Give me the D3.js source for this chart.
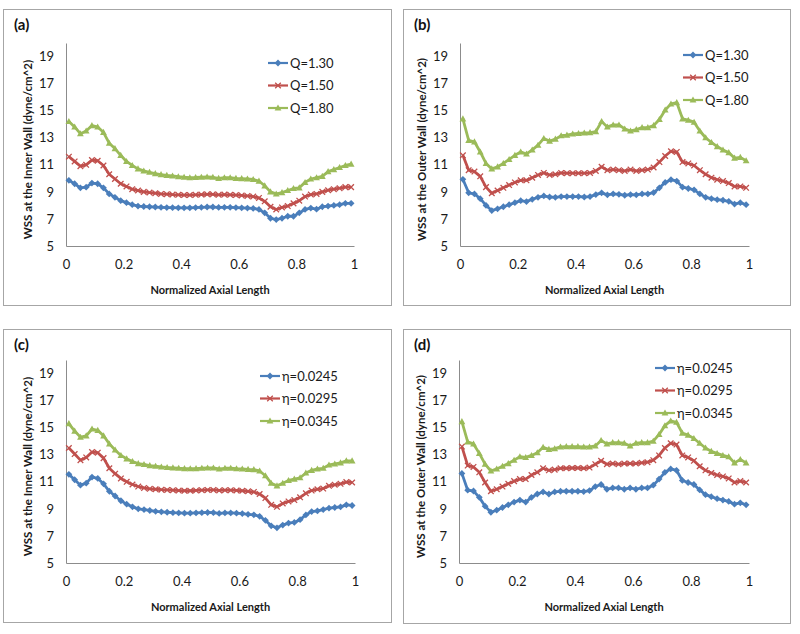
<!DOCTYPE html>
<html>
<head>
<meta charset="utf-8">
<script src="https://cdn.jsdelivr.net/npm/d3@7"></script>
<style>
  body { margin: 0; background: #fff; }
  svg { display: block; font-family: Lato, "Open Sans", sans-serif; }
</style>
</head>
<body>
<script>
// sample positions along the normalized axial length
var xs = d3.range(0.01, 1, 0.02);

// tick labels
var xTicks = [0, 0.2, 0.4, 0.6, 0.8, 1],
	yTicks = [5, 7, 9, 11, 13, 15, 17, 19];

// legend labels
var qNames = ['Q=1.30', 'Q=1.50', 'Q=1.80'],
	etaNames = ['\u03b7=0.0245', '\u03b7=0.0295', '\u03b7=0.0345'];

// (a) inner wall, flow rate
var innerQ130 = [9.85,9.6,9.3,9.35,9.65,9.6,9.3,8.85,8.6,8.35,8.2,8.05,7.95,7.92,7.9,7.88,7.86,7.84,7.83,7.82,7.82,7.82,7.84,7.86,7.88,7.88,7.85,7.86,7.86,7.84,7.82,7.8,7.78,7.7,7.45,7.05,6.95,7.05,7.2,7.2,7.45,7.7,7.8,7.72,7.9,7.95,8.0,8.05,8.15,8.15],
	innerQ150 = [11.6,11.25,10.9,11.0,11.35,11.3,10.95,10.3,9.95,9.6,9.4,9.2,9.1,9.0,8.95,8.9,8.85,8.83,8.8,8.78,8.76,8.76,8.78,8.8,8.82,8.82,8.78,8.8,8.78,8.76,8.74,8.7,8.65,8.55,8.3,7.9,7.7,7.85,7.95,8.15,8.35,8.65,8.8,8.85,9.0,9.12,9.2,9.27,9.35,9.35],
	innerQ180 = [14.2,13.8,13.3,13.5,13.9,13.8,13.4,12.6,12.2,11.7,11.25,10.95,10.7,10.55,10.45,10.35,10.28,10.22,10.18,10.12,10.08,10.05,10.06,10.08,10.1,10.08,10.0,10.05,10.05,10.0,9.98,9.95,9.92,9.8,9.45,9.0,8.85,8.95,9.1,9.25,9.3,9.7,9.95,10.05,10.15,10.5,10.65,10.8,10.95,11.05];

// (b) outer wall, flow rate
var outerQ130 = [9.93,8.93,8.85,8.5,8.0,7.62,7.75,7.9,8.05,8.2,8.35,8.28,8.45,8.6,8.7,8.62,8.6,8.65,8.65,8.65,8.65,8.62,8.65,8.8,8.93,8.78,8.85,8.82,8.75,8.8,8.78,8.85,8.85,8.95,9.3,9.7,9.9,9.8,9.35,9.25,9.15,8.85,8.6,8.5,8.42,8.38,8.3,8.1,8.2,8.05],
	outerQ150 = [11.7,10.6,10.5,10.15,9.35,8.9,9.1,9.3,9.5,9.7,9.85,9.85,10.05,10.25,10.4,10.25,10.3,10.4,10.38,10.38,10.38,10.38,10.4,10.55,10.85,10.6,10.65,10.6,10.55,10.65,10.55,10.6,10.65,10.8,11.2,11.65,12.0,11.95,11.2,11.1,10.95,10.6,10.3,10.05,9.9,9.8,9.65,9.4,9.4,9.3],
	outerQ180 = [14.4,12.8,12.7,11.95,11.1,10.7,10.85,11.1,11.4,11.7,11.95,11.8,12.1,12.45,12.95,12.75,12.9,13.15,13.2,13.28,13.32,13.35,13.38,13.45,14.2,13.8,13.95,13.95,13.65,13.5,13.6,13.75,13.75,13.9,14.35,15.05,15.5,15.6,14.4,14.3,14.15,13.5,13.0,12.65,12.35,12.1,11.9,11.5,11.55,11.3];

// (c) inner wall, viscosity
var innerE0245 = [11.55,11.15,10.75,10.9,11.35,11.25,10.85,10.3,9.95,9.6,9.35,9.15,9.0,8.95,8.88,8.82,8.78,8.75,8.72,8.7,8.68,8.68,8.7,8.72,8.73,8.72,8.66,8.7,8.7,8.68,8.65,8.6,8.56,8.45,8.15,7.75,7.6,7.8,7.95,8.0,8.2,8.55,8.8,8.85,8.95,9.05,9.1,9.15,9.3,9.25],
	innerE0295 = [13.5,13.05,12.6,12.8,13.2,13.15,12.75,12.0,11.6,11.25,11.0,10.8,10.65,10.55,10.48,10.45,10.42,10.4,10.38,10.35,10.34,10.34,10.36,10.38,10.4,10.4,10.36,10.38,10.38,10.36,10.34,10.3,10.25,10.1,9.8,9.3,9.15,9.4,9.55,9.65,9.85,10.15,10.35,10.45,10.5,10.7,10.78,10.85,10.98,10.95],
	innerE0345 = [15.3,14.75,14.3,14.4,14.9,14.8,14.4,13.8,13.35,12.95,12.7,12.5,12.35,12.28,12.2,12.15,12.1,12.06,12.03,12.0,11.98,11.97,11.98,12.0,12.02,12.02,11.95,12.0,12.0,11.97,11.95,11.92,11.9,11.8,11.45,10.9,10.7,10.9,11.1,11.2,11.3,11.65,11.85,11.95,12.0,12.25,12.32,12.4,12.55,12.55];

// (d) outer wall, viscosity
var outerE0245 = [11.62,10.38,10.32,9.85,9.2,8.75,8.9,9.1,9.3,9.5,9.65,9.5,9.85,10.1,10.25,10.1,10.25,10.3,10.3,10.3,10.3,10.28,10.35,10.65,10.8,10.45,10.55,10.55,10.45,10.55,10.45,10.55,10.55,10.75,11.2,11.7,11.95,11.85,11.1,10.95,10.8,10.4,10.05,9.9,9.75,9.65,9.55,9.35,9.45,9.3],
	outerE0295 = [13.6,12.2,12.1,11.7,10.95,10.3,10.45,10.65,10.85,11.05,11.2,11.2,11.5,11.7,12.0,11.85,11.9,12.0,12.0,12.02,12.02,12.0,12.05,12.3,12.55,12.3,12.35,12.3,12.35,12.35,12.35,12.4,12.45,12.6,12.95,13.5,13.85,13.75,12.95,12.8,12.55,12.15,11.85,11.65,11.5,11.4,11.25,10.95,11.05,10.95],
	outerE0345 = [15.45,13.95,13.8,13.1,12.3,11.8,11.95,12.15,12.35,12.6,12.85,12.8,12.95,13.15,13.55,13.4,13.45,13.58,13.6,13.6,13.6,13.58,13.58,13.65,14.05,13.8,13.9,13.9,13.85,13.65,13.85,13.9,13.9,14.0,14.5,15.15,15.5,15.4,14.6,14.45,14.2,13.85,13.5,13.25,13.1,12.95,12.85,12.4,12.65,12.4];

var colors = ['#4a7ebb', '#c0504d', '#9bbb59'],
	markers = ['diamond', 'cross', 'triangle'];

// panel layout: outer box, plot area, legend anchor
var panels = [
	{tag: '(a)', box: [3, 9, 391, 305], px: [66, 354], py: [246, 43], leg: [268, 63],
		yTitle: 'WSS at the Inner Wall (dyne/cm^2)', names: qNames, series: [innerQ130, innerQ150, innerQ180]},
	{tag: '(b)', box: [403, 9, 790, 305], px: [460, 749], py: [246, 43], leg: [683, 55],
		yTitle: 'WSS at the Outer Wall (dyne/cm^2)', names: qNames, series: [outerQ130, outerQ150, outerQ180]},
	{tag: '(c)', box: [3, 329, 391, 622], px: [66, 355], py: [563, 360], leg: [260, 376],
		yTitle: 'WSS at the Inner Wall (dyne/cm^2)', names: etaNames, series: [innerE0245, innerE0295, innerE0345]},
	{tag: '(d)', box: [403, 329, 790, 623], px: [459, 749], py: [563, 360], leg: [655, 368],
		yTitle: 'WSS at the Outer Wall (dyne/cm^2)', names: etaNames, series: [outerE0245, outerE0295, outerE0345]}
];

var svg = d3.select('body').append('svg')
	.attr('width', 800)
	.attr('height', 634);

// draw one marker of a given kind centred at (x, y)
function draw_marker(g, kind, x, y, color) {
	if (kind == 'diamond') {
		g.append('path')
			.attr('d', 'M' + x + ',' + (y - 3.4) + 'L' + (x + 3.4) + ',' + y + 'L' + x + ',' + (y + 3.4) + 'L' + (x - 3.4) + ',' + y + 'Z')
			.attr('fill', color);
	}
	else if (kind == 'triangle') {
		g.append('path')
			.attr('d', 'M' + x + ',' + (y - 3.5) + 'L' + (x + 3.4) + ',' + (y + 2.6) + 'L' + (x - 3.4) + ',' + (y + 2.6) + 'Z')
			.attr('fill', color);
	}
	else {
		g.append('path')
			.attr('d', 'M' + (x - 2.8) + ',' + (y - 2.8) + 'L' + (x + 2.8) + ',' + (y + 2.8) + 'M' + (x - 2.8) + ',' + (y + 2.8) + 'L' + (x + 2.8) + ',' + (y - 2.8))
			.attr('stroke', color)
			.attr('stroke-width', 1.3)
			.attr('fill', 'none');
	}
}

panels.forEach(function(p) {
	var g = svg.append('g');

	// outer frame
	g.append('rect')
		.attr('x', p.box[0] + 0.5)
		.attr('y', p.box[1] + 0.5)
		.attr('width', p.box[2] - p.box[0])
		.attr('height', p.box[3] - p.box[1])
		.attr('fill', 'white')
		.attr('stroke', '#a6a6a6')
		.attr('stroke-width', 1);

	// panel tag
	g.append('text')
		.text(p.tag)
		.attr('x', p.box[0] + 11)
		.attr('y', p.box[1] + 21)
		.attr('font-size', 15)
		.attr('font-weight', 'bold')
		.attr('fill', '#111');

	var x = d3.scaleLinear().domain([0, 1]).range(p.px),
		y = d3.scaleLinear().domain([5, 20]).range(p.py);

	// axes, Excel style: grey lines, no ticks
	var xAxis = g.append('g')
		.attr('transform', 'translate(0,' + p.py[0] + ')')
		.call(d3.axisBottom(x).tickValues(xTicks).tickSize(0).tickPadding(14).tickFormat(d3.format('')));
	var yAxis = g.append('g')
		.attr('transform', 'translate(' + p.px[0] + ',0)')
		.call(d3.axisLeft(y).tickValues(yTicks).tickSize(0).tickPadding(12));
	[xAxis, yAxis].forEach(function(a) {
		a.select('.domain').attr('stroke', '#8c8c8c').attr('stroke-width', 1);
		a.selectAll('text')
			.attr('font-size', 13)
			.attr('font-family', 'Lato, sans-serif')
			.attr('fill', '#1a1a1a');
	});

	// axis titles
	g.append('text')
		.text('Normalized Axial Length')
		.attr('x', (p.px[0] + p.px[1]) / 2)
		.attr('y', p.py[0] + 48)
		.attr('text-anchor', 'middle')
		.attr('font-size', 11)
		.attr('font-weight', 'bold')
		.attr('fill', '#1a1a1a');
	g.append('text')
		.text(p.yTitle)
		.attr('transform', 'translate(' + (p.px[0] - 34) + ',' + ((p.py[0] + p.py[1]) / 2 + 5) + ') rotate(-90)')
		.attr('text-anchor', 'middle')
		.attr('font-size', 11.5)
		.attr('font-weight', 'bold')
		.attr('fill', '#1a1a1a');

	// series lines and markers
	var line = d3.line()
		.x(function(d, i) { return x(xs[i]); })
		.y(function(d) { return y(d); });

	p.series.forEach(function(s, k) {
		g.append('path')
			.datum(s)
			.attr('d', line)
			.attr('fill', 'none')
			.attr('stroke', colors[k])
			.attr('stroke-width', 2.8)
			.attr('stroke-linejoin', 'round');
		s.forEach(function(v, i) {
			draw_marker(g, markers[k], x(xs[i]), y(v), colors[k]);
		});
	});

	// legend
	p.names.forEach(function(name, k) {
		var ly = p.leg[1] + k * 22.5;
		g.append('line')
			.attr('x1', p.leg[0])
			.attr('x2', p.leg[0] + 20)
			.attr('y1', ly)
			.attr('y2', ly)
			.attr('stroke', colors[k])
			.attr('stroke-width', 2.2);
		draw_marker(g, markers[k], p.leg[0] + 10, ly, colors[k]);
		g.append('text')
			.text(name)
			.attr('x', p.leg[0] + 22)
			.attr('y', ly + 4.5)
			.attr('font-size', 13)
			.attr('fill', '#1a1a1a');
	});
});
</script>
</body>
</html>
